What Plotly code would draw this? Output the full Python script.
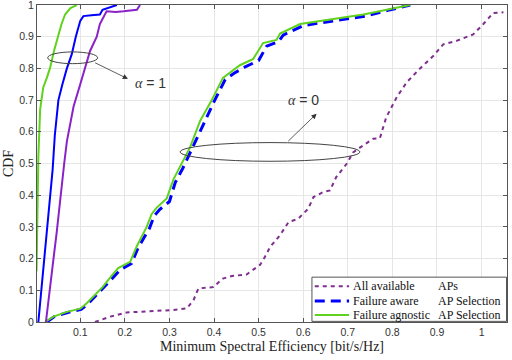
import plotly.graph_objects as go

# alpha = 1 curves
agn1_x = [0.002, 0.003, 0.004, 0.006, 0.010, 0.017, 0.025, 0.032, 0.042, 0.051, 0.058, 0.066, 0.078, 0.092]
agn1_y = [0.16, 0.30, 0.42, 0.52, 0.67, 0.74, 0.77, 0.80, 0.86, 0.91, 0.94, 0.97, 0.99, 1.0]

awr1_x = [0.006, 0.010, 0.017, 0.025, 0.032, 0.038, 0.043, 0.047, 0.051, 0.060, 0.070, 0.081, 0.090, 0.100, 0.107, 0.125, 0.144, 0.150, 0.165, 0.182]
awr1_y = [0.0, 0.06, 0.17, 0.28, 0.38, 0.48, 0.59, 0.65, 0.70, 0.75, 0.80, 0.845, 0.90, 0.95, 0.965, 0.968, 0.97, 0.985, 0.993, 1.0]

all1_x = [0.023, 0.027, 0.032, 0.040, 0.047, 0.053, 0.058, 0.064, 0.070, 0.078, 0.085, 0.100, 0.110, 0.122, 0.137, 0.144, 0.159, 0.180, 0.197, 0.227, 0.234]
all1_y = [0.0, 0.05, 0.12, 0.20, 0.28, 0.36, 0.44, 0.50, 0.57, 0.63, 0.68, 0.75, 0.80, 0.855, 0.90, 0.94, 0.98, 0.978, 0.98, 0.985, 1.0]

# alpha = 0 curves
agn0_x = [0.021, 0.040, 0.070, 0.100, 0.115, 0.129, 0.150, 0.167, 0.185, 0.212, 0.227, 0.249, 0.260, 0.271, 0.294, 0.309, 0.324,
          0.346, 0.369, 0.395, 0.420, 0.440, 0.458, 0.488, 0.510, 0.540, 0.548, 0.593, 0.660, 0.735, 0.787, 0.839]
agn0_y = [0.0, 0.017, 0.032, 0.042, 0.060, 0.080, 0.110, 0.140, 0.170, 0.190, 0.240, 0.300, 0.340, 0.360, 0.390, 0.450, 0.490,
          0.550, 0.635, 0.700, 0.770, 0.790, 0.810, 0.830, 0.880, 0.890, 0.910, 0.940, 0.955, 0.970, 0.985, 1.0]

awr0_x = [0.025, 0.042, 0.072, 0.102, 0.118, 0.132, 0.153, 0.170, 0.190, 0.215, 0.230, 0.255, 0.266, 0.278, 0.300, 0.313, 0.330,
          0.350, 0.375, 0.400, 0.425, 0.445, 0.470, 0.500, 0.518, 0.545, 0.555, 0.600, 0.668, 0.740, 0.790, 0.840]
awr0_y = [0.0, 0.017, 0.030, 0.040, 0.058, 0.078, 0.108, 0.135, 0.165, 0.185, 0.235, 0.295, 0.335, 0.355, 0.380, 0.440, 0.485,
          0.545, 0.625, 0.695, 0.765, 0.785, 0.805, 0.825, 0.870, 0.885, 0.905, 0.935, 0.950, 0.965, 0.983, 1.0]

all0_x = [0.133, 0.167, 0.204, 0.256, 0.309, 0.339, 0.354, 0.365, 0.398, 0.420, 0.440, 0.473, 0.503, 0.514, 0.526, 0.548, 0.567,
          0.589, 0.611, 0.623, 0.645, 0.660, 0.674, 0.698, 0.712, 0.727, 0.757, 0.772, 0.786, 0.810, 0.832, 0.862, 0.892, 0.914,
          0.944, 0.981, 1.004, 1.026, 1.049]
all0_y = [0.0, 0.017, 0.030, 0.033, 0.038, 0.043, 0.069, 0.106, 0.110, 0.137, 0.145, 0.150, 0.180, 0.205, 0.237, 0.274, 0.315,
          0.326, 0.357, 0.394, 0.410, 0.415, 0.457, 0.500, 0.535, 0.550, 0.578, 0.580, 0.645, 0.710, 0.756, 0.800, 0.840, 0.876,
          0.887, 0.907, 0.940, 0.975, 0.977]

x_ticks = [0.1, 0.2, 0.3, 0.4, 0.5, 0.6, 0.7, 0.8, 0.9, 1]
y_ticks = [0, 0.1, 0.2, 0.3, 0.4, 0.5, 0.6, 0.7, 0.8, 0.9, 1]

legend_first = ["All available", "Failure aware", "Failure agnostic"]
legend_second = ["APs", "AP Selection", "AP Selection"]

PURPLE = "#7E2F8E"
VIOLET = "#8A22C8"
BLUE = "#0000FF"
GREEN = "#5FD21E"
SERIF = "Liberation Serif, Times New Roman, serif"
SANS = "Liberation Sans, Arial, sans-serif"

styles = [dict(color=PURPLE, width=2, dash="4px,4px"),
          dict(color=BLUE, width=3, dash="10px,6px"),
          dict(color=GREEN, width=2)]

fig = go.Figure()
fig.add_scatter(x=all0_x, y=all0_y, mode="lines", line=styles[0])
fig.add_scatter(x=awr0_x, y=awr0_y, mode="lines", line=styles[1])
fig.add_scatter(x=agn0_x, y=agn0_y, mode="lines", line=styles[2])
fig.add_scatter(x=all1_x, y=all1_y, mode="lines", line=dict(color=VIOLET, width=2))
fig.add_scatter(x=awr1_x, y=awr1_y, mode="lines", line=dict(color=BLUE, width=2))
fig.add_scatter(x=agn1_x, y=agn1_y, mode="lines", line=dict(color=GREEN, width=2))

# ellipses
fig.add_shape(type="circle", xref="x", yref="y", x0=0.027, x1=0.139, y0=0.815, y1=0.852,
              line=dict(color="#444", width=1))
fig.add_shape(type="circle", xref="x", yref="y", x0=0.324, x1=0.727, y0=0.507, y1=0.566,
              line=dict(color="#444", width=1))

# arrows
fig.add_annotation(x=0.207, y=0.767, ax=0.130, ay=0.820, xref="x", yref="y", axref="x", ayref="y",
                   text="", showarrow=True, arrowhead=2, arrowsize=1.3, arrowwidth=0.8, arrowcolor="#333")
fig.add_annotation(x=0.630, y=0.657, ax=0.563, ay=0.566, xref="x", yref="y", axref="x", ayref="y",
                   text="", showarrow=True, arrowhead=2, arrowsize=1.3, arrowwidth=0.8, arrowcolor="#333")

fig.add_annotation(x=0.258, y=0.755, xref="x", yref="y", showarrow=False,
                   text="<span style='font-family:Liberation Serif'><i>α</i></span> = 1",
                   font=dict(family=SANS, size=14, color="#333"))
fig.add_annotation(x=0.600, y=0.700, xref="x", yref="y", showarrow=False,
                   text="<span style='font-family:Liberation Serif'><i>α</i></span> = 0",
                   font=dict(family=SANS, size=14, color="#333"))

# compact MATLAB-like legend box (plotly's own legend rows are too tall)
fig.add_shape(type="rect", xref="paper", yref="paper", x0=0.585, x1=0.999, y0=0.002, y1=0.1415,
              line=dict(color="#555", width=1), fillcolor="white", layer="above")
row_y = [0.113, 0.066, 0.022]
for i in range(3):
    fig.add_shape(type="line", xref="paper", yref="paper", x0=0.591, x1=0.664, y0=row_y[i], y1=row_y[i],
                  line=styles[i], layer="above")
    fig.add_annotation(x=0.668, y=row_y[i], xref="paper", yref="paper", xanchor="left", yanchor="middle",
                       text=legend_first[i], showarrow=False,
                       font=dict(family=SERIF, size=12, color="#111"))
    fig.add_annotation(x=0.848, y=row_y[i], xref="paper", yref="paper", xanchor="left", yanchor="middle",
                       text=legend_second[i], showarrow=False,
                       font=dict(family=SERIF, size=12, color="#111"))

axis_common = dict(showgrid=True, gridcolor="#e6e6e6", gridwidth=1, zeroline=False,
                   showline=True, linecolor="#555", linewidth=1, mirror="ticks",
                   ticks="inside", ticklen=4, tickcolor="#555", automargin=False,
                   ticklabeloverflow="allow",
                   tickfont=dict(family=SANS, size=10.5, color="#333"))

fig.update_xaxes(range=[0.003, 1.057], tickvals=x_ticks, ticktext=[str(v) for v in x_ticks],
                 title=dict(text="Minimum Spectral Efficiency [bit/s/Hz]", standoff=4,
                            font=dict(family=SERIF, size=14, color="#222")),
                 **axis_common)
fig.update_yaxes(range=[0, 1], tickvals=y_ticks, ticktext=[str(v) for v in y_ticks],
                 title=dict(text="CDF", standoff=2,
                            font=dict(family=SERIF, size=14, color="#222")),
                 **axis_common)

fig.update_layout(width=512, height=360, margin=dict(l=37, r=5, t=5, b=38),
                  plot_bgcolor="white", paper_bgcolor="white", showlegend=False)

# page body has a default 8px margin; drop it so the figure sits at the window corner
fig.write_html("out.html", config={"displayModeBar": False},
               post_script="document.body.style.margin='0px';")
